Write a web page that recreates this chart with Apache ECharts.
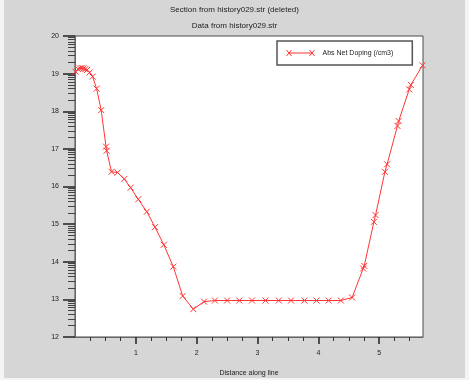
<!DOCTYPE html>
<html>
<head>
<meta charset="utf-8">
<script src="https://cdn.jsdelivr.net/npm/echarts@6/dist/echarts.min.js"></script>
<style>
  html, body { margin: 0; padding: 0; background: #f4f4f4; width: 469px; height: 380px; overflow: hidden; }
  #chart { position: absolute; left: 4px; top: 0; width: 461px; height: 378px; }
</style>
</head>
<body>
<div id="chart"></div>
<script>
// ---- data ----
const titleMain = 'Section from history029.str (deleted)';
const titleSub = 'Data from history029.str';
const seriesName = 'Abs Net Doping (/cm3)';
const xAxisName = 'Distance along line';

const distance = [0.01, 0.05, 0.08, 0.11, 0.14, 0.17, 0.20,
  0.24, 0.29, 0.355, 0.43, 0.51, 0.52, 0.60, 0.70, 0.81, 0.915,
  1.04, 1.18, 1.315, 1.46, 1.615, 1.77, 1.945,
  2.12, 2.30, 2.50, 2.70, 2.91, 3.13, 3.35, 3.55, 3.77, 3.97, 4.17, 4.37,
  4.555, 4.737, 4.754, 4.913, 4.94, 5.094, 5.13, 5.30, 5.32, 5.493, 5.52, 5.713];
const doping = [19.05, 19.12, 19.14, 19.15, 19.14, 19.12, 19.10,
  19.03, 18.92, 18.60, 18.03, 17.06, 16.95, 16.39, 16.37, 16.20, 15.97,
  15.66, 15.33, 14.92, 14.45, 13.87, 13.09, 12.74,
  12.94, 12.97, 12.97, 12.97, 12.97, 12.97, 12.97, 12.97, 12.97, 12.97, 12.97, 12.97,
  13.05, 13.82, 13.89, 15.06, 15.24, 16.39, 16.59, 17.61, 17.74, 18.58, 18.70, 19.22];

const xMajorTicks = [1, 2, 3, 4, 5];
const xMinorTicks = [0.25, 0.5, 0.75, 1.25, 1.5, 1.75, 2.25, 2.5, 2.75, 3.25, 3.5, 3.75,
  4.25, 4.5, 4.75, 5.25, 5.5];
const yMajorTicks = [12, 13, 14, 15, 16, 17, 18, 19, 20];
const yDecades = [12, 13, 14, 15, 16, 17, 18, 19];
const yMinorMultipliers = [2, 3, 4, 5, 6, 7, 8, 9];
const yMinorTicks = [];
yDecades.forEach(d => yMinorMultipliers.forEach(k => yMinorTicks.push(d + Math.log10(k))));

const points = distance.map((d, i) => [d, doping[i]]);

// ---- chart ----
const FONT = '"Liberation Sans", Arial, sans-serif';
const RED = '#ff3535';
const crossPath = 'path://M0,0L6,6M6,0L0,6';
const legendPath = 'path://M0,0L5,6M5,0L0,6M2.5,3L25.5,3M23,0L28,6M28,0L23,6';

const chart = echarts.init(document.getElementById('chart'), null, { renderer: 'canvas' });
chart.setOption({
  backgroundColor: '#d6d6d6',
  animation: false,
  textStyle: { fontFamily: FONT },
  title: [
    { text: titleMain, left: 'center', top: 6, padding: 0,
      textStyle: { fontSize: 8, fontWeight: 'normal', color: '#222', fontFamily: FONT } },
    { text: titleSub, left: 'center', top: 22, padding: 0,
      textStyle: { fontSize: 8, fontWeight: 'normal', color: '#222', fontFamily: FONT } }
  ],
  legend: {
    left: 273, top: 41,
    orient: 'vertical',
    padding: [8.5, 19, 8.5, 9],
    backgroundColor: '#ffffff',
    borderColor: '#555',
    borderWidth: 1.5,
    borderRadius: 0,
    itemWidth: 28, itemHeight: 6,
    selectedMode: false,
    data: [{ name: seriesName, icon: legendPath }],
    itemStyle: { color: 'transparent', borderColor: RED, borderWidth: 1 },
    textStyle: { fontSize: 7, color: '#222', fontFamily: FONT, padding: [0, 0, 0, 3] }
  },
  grid: {
    left: 71, right: 42, top: 36, bottom: 41,
    outerBoundsMode: 'none', containLabel: false,
    show: true, backgroundColor: '#ffffff', borderColor: '#4a4a4a', borderWidth: 1
  },
  xAxis: [
    {
      type: 'value', min: 0, max: 5.72, interval: 1, position: 'bottom',
      name: xAxisName, nameLocation: 'middle', nameGap: 33,
      nameTextStyle: { fontSize: 7, color: '#222', fontFamily: FONT },
      axisLine: { show: true, onZero: false, lineStyle: { color: '#666', width: 1 } },
      axisTick: { show: true, inside: false, length: 7, customValues: xMajorTicks,
        lineStyle: { color: '#222', width: 1.5 } },
      axisLabel: { show: true, margin: 13, fontSize: 7, color: '#222', customValues: xMajorTicks },
      splitLine: { show: false }
    },
    {
      type: 'value', min: 0, max: 5.72, interval: 1, position: 'bottom', offset: 0,
      axisLine: { show: false, onZero: false },
      axisTick: { show: true, inside: false, length: 4, customValues: xMinorTicks,
        lineStyle: { color: '#333', width: 1 } },
      axisLabel: { show: false },
      splitLine: { show: false }
    }
  ],
  yAxis: [
    {
      type: 'value', min: 12, max: 20, interval: 1, position: 'left',
      axisLine: { show: true, onZero: false, lineStyle: { color: '#666', width: 1 } },
      axisTick: { show: true, inside: false, length: 12, customValues: yMajorTicks,
        lineStyle: { color: '#222', width: 1.5 } },
      axisLabel: { show: true, margin: 16, fontSize: 7, color: '#222', customValues: yMajorTicks },
      splitLine: { show: false }
    },
    {
      type: 'value', min: 12, max: 20, interval: 1, position: 'left', offset: 0,
      axisLine: { show: false, onZero: false },
      axisTick: { show: true, inside: false, length: 7, customValues: yMinorTicks,
        lineStyle: { color: '#444', width: 1 } },
      axisLabel: { show: false },
      splitLine: { show: false }
    }
  ],
  series: [{
    name: seriesName,
    type: 'line',
    xAxisIndex: 0, yAxisIndex: 0,
    data: points,
    showSymbol: true,
    symbol: crossPath,
    symbolSize: 6,
    lineStyle: { color: RED, width: 1 },
    itemStyle: { color: 'transparent', borderColor: RED, borderWidth: 1 },
    emphasis: { disabled: true }
  }]
});
</script>
</body>
</html>
